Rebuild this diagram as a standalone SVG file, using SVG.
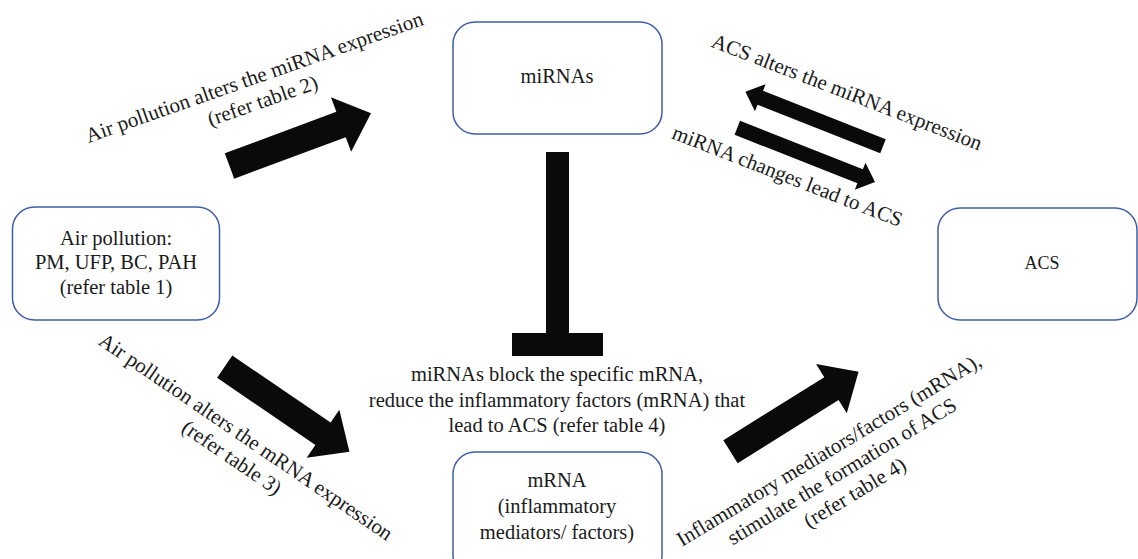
<svg xmlns="http://www.w3.org/2000/svg" xmlns:xlink="http://www.w3.org/1999/xlink" width="1138" height="559" viewBox="0 0 1138 559">
<defs>
<style>
.box{fill:#ffffff;stroke:#3f5ea6;stroke-width:1.5}
.t{font-family:"Liberation Serif","Times New Roman",serif;font-size:20.5px;fill:#1a1a1a;text-anchor:middle}
.r{font-size:21px}
.arr{fill:#0a0a0a}
</style>
<path id="bigArrow" d="M0,-13.5 L119,-13.5 L119,-29 L151,0 L119,29 L119,13.5 L0,13.5 Z"/>
<path id="smallArrow" d="M0,-7.5 L132,-7.5 L132,-14.5 L148,0 L132,14.5 L132,7.5 L0,7.5 Z"/>
</defs>
<rect width="1138" height="559" fill="#ffffff"/>

<g id="connectors" class="arr">
<use xlink:href="#bigArrow" href="#bigArrow" transform="translate(229.5,166) rotate(-20.4)"/>
<use xlink:href="#bigArrow" href="#bigArrow" transform="translate(224.7,366.7) rotate(34.3)"/>
<use xlink:href="#bigArrow" href="#bigArrow" transform="translate(730.5,451.7) rotate(-32)"/>
<use xlink:href="#smallArrow" href="#smallArrow" transform="translate(883,146.3) rotate(201.6)"/>
<use xlink:href="#smallArrow" href="#smallArrow" transform="translate(737.3,127.8) rotate(21.5)"/>
<g id="inhibition">
<rect x="546" y="152" width="23" height="182"/>
<rect x="512" y="333" width="91" height="23"/>
</g>
</g>

<g id="node-mirnas">
<rect class="box" x="453" y="22" width="209" height="112" rx="22" ry="22"/>
<text class="t" x="557" y="83">miRNAs</text>
</g>

<g id="node-air-pollution">
<rect class="box" x="12.5" y="207" width="207" height="113" rx="22" ry="22"/>
<text class="t" x="116" y="244.5">Air pollution:</text>
<text class="t" x="116" y="269">PM, UFP, BC, PAH</text>
<text class="t" x="116" y="293.5">(refer table 1)</text>
</g>

<g id="node-acs">
<rect class="box" x="938" y="208" width="199" height="112" rx="22" ry="22"/>
<text class="t" x="1042" y="269" style="font-size:18px">ACS</text>
</g>

<g id="node-mrna">
<rect class="box" x="453" y="452" width="209" height="125" rx="22" ry="22"/>
<text class="t" x="557" y="487">mRNA</text>
<text class="t" x="557" y="513">(inflammatory</text>
<text class="t" x="557" y="538.5">mediators/ factors)</text>
</g>

<g id="labels">
<text class="t" x="557" y="381">miRNAs block the specific mRNA,</text>
<text class="t" x="557" y="406.5">reduce the inflammatory factors (mRNA) that</text>
<text class="t" x="557" y="432">lead to ACS (refer table 4)</text>

<g transform="translate(256.5,83.7) rotate(-19.4)">
<text class="t r" x="0" y="0">Air pollution alters the miRNA expression</text>
<text class="t r" x="0" y="25">(refer table 2)</text>
</g>

<g transform="translate(844.5,98.5) rotate(21.2)">
<text class="t r" x="0" y="0">ACS alters the miRNA expression</text>
</g>

<g transform="translate(785,182.5) rotate(21.3)">
<text class="t r" x="0" y="0">miRNA changes lead to ACS</text>
</g>

<g transform="translate(242,442.5) rotate(34.3)">
<text class="t r" x="0" y="0">Air pollution alters the mRNA expression</text>
<text class="t r" x="0" y="25">(refer table 3)</text>
</g>

<g transform="translate(832.5,455.8) rotate(-31.2)">
<text class="t r" x="0" y="0">Inflammatory mediators/factors (mRNA),</text>
<text class="t r" x="0" y="25">stimulate the formation of ACS</text>
<text class="t r" x="0" y="50">(refer table 4)</text>
</g>
</g>
</svg>
